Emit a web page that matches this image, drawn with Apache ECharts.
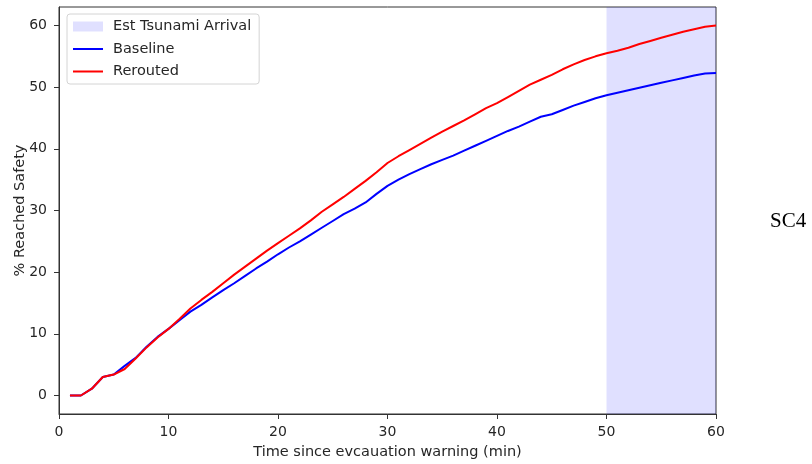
<!DOCTYPE html>
<html>
<head>
<meta charset="utf-8">
<script src="https://cdn.jsdelivr.net/npm/echarts@6/dist/echarts.min.js"></script>
<style>
  html, body { margin: 0; padding: 0; background: #fff; }
  #chart { width: 812px; height: 464px; }
</style>
</head>
<body>
<div id="chart"></div>
<script>
// Minutes since the evacuation warning
const minutes = [];
for (let m = 1; m <= 60; m++) minutes.push(m);

// Share of evacuees that reached safety (%)
const baseline = [
  0, 0, 1.1, 3.0, 3.4, 4.8, 6.1, 7.9, 9.5, 10.8,
  12.2, 13.6, 14.7, 15.9, 17.1, 18.2, 19.4, 20.6, 21.7, 22.9,
  24.0, 25.0, 26.1, 27.2, 28.3, 29.4, 30.3, 31.3, 32.7, 34.0,
  35.0, 35.9, 36.7, 37.5, 38.2, 38.9, 39.7, 40.5, 41.3, 42.1,
  42.9, 43.6, 44.4, 45.2, 45.6, 46.3, 47.0, 47.6, 48.2, 48.7,
  49.1, 49.5, 49.9, 50.3, 50.7, 51.1, 51.5, 51.9, 52.2, 52.3
];
const rerouted = [
  0, 0, 1.1, 3.0, 3.4, 4.3, 6.0, 7.8, 9.4, 10.8,
  12.4, 14.1, 15.5, 16.8, 18.2, 19.6, 20.9, 22.2, 23.5, 24.7,
  25.9, 27.1, 28.4, 29.8, 31.0, 32.2, 33.5, 34.8, 36.2, 37.7,
  38.8, 39.8, 40.8, 41.8, 42.8, 43.7, 44.6, 45.6, 46.6, 47.4,
  48.4, 49.4, 50.4, 51.2, 52.0, 52.9, 53.7, 54.4, 55.0, 55.5,
  55.9, 56.4, 57.0, 57.5, 58.0, 58.5, 59.0, 59.4, 59.8, 60.0
];

// Estimated tsunami arrival window (min)
const arrivalWindow = [50, 60];

// Axis tick values
const xTicks = [0, 10, 20, 30, 40, 50, 60];
const yTicks = [0, 10, 20, 30, 40, 50, 60];

const pairs = (ys) => minutes.map((m, i) => [m, ys[i]]);

const font = 'DejaVu Sans';
const ink = '#262626';
const shade = 'rgba(0,0,255,0.12)';
const chart = echarts.init(document.getElementById('chart'), null, { renderer: 'canvas' });

chart.setOption({
  animation: false,
  backgroundColor: '#ffffff',
  grid: {
    left: 59, right: 96, top: 7, bottom: 50,
    containLabel: false, outerBoundsMode: 'none',
    show: true, borderColor: '#333', borderWidth: 1, backgroundColor: 'transparent'
  },
  xAxis: {
    type: 'value', min: 0, max: 60, interval: 10,
    name: 'Time since evcauation warning (min)',
    nameLocation: 'middle', nameGap: 31, nameMoveOverlap: false,
    nameTextStyle: { fontFamily: font, fontSize: 14.5, color: ink },
    axisLine: { show: true, onZero: false, lineStyle: { color: '#333', width: 1 } },
    axisTick: { show: true, inside: false, length: 5, lineStyle: { color: '#333' } },
    axisLabel: { fontFamily: font, fontSize: 14, color: ink, margin: 11,
      customValues: xTicks },
    splitLine: { show: false }
  },
  yAxis: {
    type: 'value', min: -3, max: 63,
    name: '% Reached Safety',
    nameLocation: 'middle', nameGap: 31, nameRotate: 90, nameMoveOverlap: false,
    nameTextStyle: { fontFamily: font, fontSize: 14.5, color: ink },
    axisLine: { show: true, onZero: false, lineStyle: { color: '#333', width: 1 } },
    axisTick: { show: true, inside: false, length: 5, lineStyle: { color: '#333' },
      customValues: yTicks },
    axisLabel: { fontFamily: font, fontSize: 14, color: ink, margin: 12,
      customValues: yTicks },
    splitLine: { show: false }
  },
  legend: {
    orient: 'vertical', left: 67, top: 14,
    padding: [5, 8, 5, 5], itemGap: 7.5,
    itemWidth: 30, itemHeight: 10,
    backgroundColor: 'rgba(255,255,255,0.85)',
    borderColor: '#d4d4d4', borderWidth: 1, borderRadius: 3,
    textStyle: { fontFamily: font, fontSize: 14.5, color: ink, padding: [0, 0, 0, 5] },
    data: [
      { name: 'Est Tsunami Arrival', icon: 'rect', itemStyle: { color: shade } },
      { name: 'Baseline', itemStyle: { opacity: 0 } },
      { name: 'Rerouted', itemStyle: { opacity: 0 } }
    ]
  },
  series: [
    {
      name: 'Est Tsunami Arrival', type: 'line', data: [],
      itemStyle: { color: shade },
      markArea: {
        silent: true,
        itemStyle: { color: shade },
        data: [[{ xAxis: arrivalWindow[0] }, { xAxis: arrivalWindow[1] }]]
      }
    },
    {
      name: 'Baseline', type: 'line', data: pairs(baseline),
      symbol: 'none', lineStyle: { color: '#0000ff', width: 2 },
      itemStyle: { color: '#0000ff' }
    },
    {
      name: 'Rerouted', type: 'line', data: pairs(rerouted),
      symbol: 'none', lineStyle: { color: '#ff0000', width: 2 },
      itemStyle: { color: '#ff0000' }
    }
  ],
  graphic: [{
    type: 'text', left: 770, top: 211,
    style: { text: 'SC4', font: '21px "Liberation Serif"', fill: '#000' }
  }]
});
</script>
</body>
</html>
